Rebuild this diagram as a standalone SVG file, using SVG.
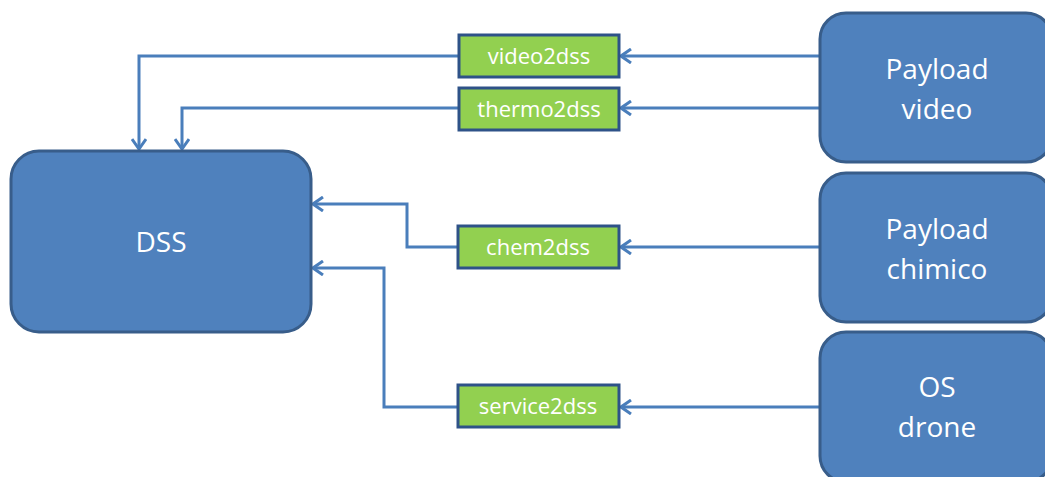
<svg xmlns="http://www.w3.org/2000/svg" width="1045" height="477" viewBox="0 0 1045 477">
<defs>
<style>
.blue{fill:#4F81BD;stroke:#385D8A;stroke-width:3}
.green{fill:#92D050;stroke:#2E5288;stroke-width:3}
.t{font-family:"Open Sans","Noto Sans",sans-serif;fill:#FFFFFF;text-anchor:middle}
.big{font-size:28px}
.lab{font-size:22px}
.c{fill:none;stroke:#4A7EBB;stroke-width:3}
</style>
<marker id="arr" viewBox="0 0 12 16" refX="11" refY="8" markerWidth="12" markerHeight="16" markerUnits="userSpaceOnUse" orient="auto">
<polyline points="1,1 11,8 1,15" fill="none" stroke="#4A7EBB" stroke-width="3"/>
</marker>
</defs>
<rect width="1045" height="477" fill="#FFFFFF"/>
<g id="connectors">
<line class="c" x1="820" y1="56" x2="621" y2="56" marker-end="url(#arr)"/>
<polyline class="c" points="459,56 139,56 139,149" marker-end="url(#arr)"/>
<line class="c" x1="820" y1="108" x2="621" y2="108" marker-end="url(#arr)"/>
<polyline class="c" points="459,108 182,108 182,149" marker-end="url(#arr)"/>
<line class="c" x1="820" y1="247" x2="621" y2="247" marker-end="url(#arr)"/>
<polyline class="c" points="458,247 407,247 407,204 313,204" marker-end="url(#arr)"/>
<line class="c" x1="820" y1="407" x2="621" y2="407" marker-end="url(#arr)"/>
<polyline class="c" points="458,407 384,407 384,268 313,268" marker-end="url(#arr)"/>
</g>
<g id="dss">
<rect class="blue" x="11" y="151" width="300" height="181" rx="28"/>
<text class="t big" x="161" y="252">DSS</text>
</g>
<g id="payload-video">
<rect class="blue" x="820" y="13" width="232" height="149" rx="26"/>
<text class="t big" x="937" y="79">Payload</text>
<text class="t big" x="937" y="119">video</text>
</g>
<g id="payload-chimico">
<rect class="blue" x="820" y="173" width="232" height="149" rx="26"/>
<text class="t big" x="937" y="239">Payload</text>
<text class="t big" x="937" y="279">chimico</text>
</g>
<g id="os-drone">
<rect class="blue" x="820" y="332" width="232" height="150" rx="26"/>
<text class="t big" x="937" y="397">OS</text>
<text class="t big" x="937" y="437">drone</text>
</g>
<g id="video2dss">
<rect class="green" x="459" y="35" width="160" height="42"/>
<text class="t lab" x="539" y="64">video2dss</text>
</g>
<g id="thermo2dss">
<rect class="green" x="459" y="88" width="160" height="42"/>
<text class="t lab" x="539" y="117">thermo2dss</text>
</g>
<g id="chem2dss">
<rect class="green" x="458" y="226" width="161" height="42"/>
<text class="t lab" x="538" y="255">chem2dss</text>
</g>
<g id="service2dss">
<rect class="green" x="458" y="385" width="161" height="42"/>
<text class="t lab" x="538" y="414">service2dss</text>
</g>
</svg>
